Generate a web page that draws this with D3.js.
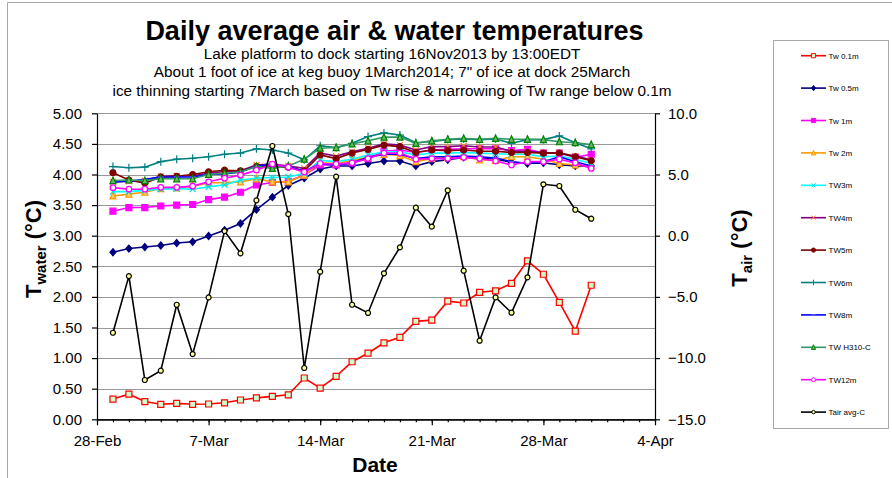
<!DOCTYPE html>
<html><head><meta charset="utf-8">
<script src="https://cdn.jsdelivr.net/npm/d3@7"></script>
<style>body{margin:0;background:#fff} svg{display:block;font-family:Arial,"Liberation Sans",sans-serif}</style>
</head><body>
<svg id="c" width="892" height="478"></svg>
<script>
// ---------- DATA ----------
const dates = ["2014-03-01","2014-03-02","2014-03-03","2014-03-04","2014-03-05","2014-03-06","2014-03-07","2014-03-08","2014-03-09","2014-03-10",
"2014-03-11","2014-03-12","2014-03-13","2014-03-14","2014-03-15","2014-03-16","2014-03-17","2014-03-18","2014-03-19","2014-03-20",
"2014-03-21","2014-03-22","2014-03-23","2014-03-24","2014-03-25","2014-03-26","2014-03-27","2014-03-28","2014-03-29","2014-03-30","2014-03-31"];
const xTickDates = ["2014-02-28","2014-03-07","2014-03-14","2014-03-21","2014-03-28","2014-04-04"];
const leftTicks = [0,0.5,1,1.5,2,2.5,3,3.5,4,4.5,5];
const rightTicks = [-15,-10,-5,0,5,10];

const tw01 = [0.33,0.41,0.29,0.245,0.26,0.245,0.25,0.27,0.315,0.35,0.375,0.40,0.675,0.51,0.70,0.94,1.08,1.25,1.34,1.60,1.62,1.93,1.90,2.075,2.10,2.22,2.59,2.37,1.91,1.44,2.19];
const tw05 = [2.73,2.79,2.815,2.84,2.88,2.90,2.995,3.09,3.20,3.425,3.63,3.82,3.94,4.09,4.14,4.14,4.18,4.22,4.22,4.14,4.21,4.24,4.28,4.27,4.25,4.20,4.18,4.19,4.16,4.14,4.14];
const tw1  = [3.40,3.46,3.46,3.485,3.50,3.51,3.59,3.63,3.71,3.83,3.87,3.89,3.99,4.155,4.155,4.19,4.26,4.38,4.40,4.36,4.40,4.41,4.42,4.42,4.42,4.39,4.41,4.35,4.35,4.28,4.33];
const tw2  = [3.65,3.68,3.71,3.77,3.78,3.81,3.86,3.87,3.88,3.93,3.88,3.88,3.99,4.19,4.18,4.23,4.28,4.33,4.31,4.21,4.26,4.28,4.29,4.24,4.23,4.29,4.29,4.25,4.18,4.155,4.14];
const tw3  = [3.72,3.72,3.74,3.76,3.77,3.76,3.80,3.83,3.91,3.94,3.95,3.96,4.02,4.23,4.21,4.25,4.32,4.37,4.37,4.32,4.35,4.35,4.36,4.35,4.34,4.33,4.33,4.29,4.30,4.25,4.18];
const tw4  = [3.88,3.89,3.90,3.97,3.98,3.98,4.02,4.05,4.06,4.155,4.17,4.14,4.10,4.35,4.30,4.37,4.43,4.50,4.48,4.40,4.455,4.455,4.47,4.45,4.45,4.38,4.38,4.36,4.35,4.30,4.24];
const tw5  = [4.03,3.91,3.86,3.96,3.97,4.00,4.045,4.07,4.06,4.13,4.12,4.12,4.06,4.32,4.26,4.35,4.41,4.48,4.455,4.36,4.40,4.39,4.40,4.38,4.38,4.36,4.36,4.35,4.35,4.29,4.225];
const tw6  = [4.13,4.11,4.12,4.21,4.25,4.265,4.29,4.33,4.35,4.42,4.40,4.35,4.24,4.47,4.44,4.51,4.62,4.68,4.645,4.52,4.54,4.57,4.58,4.57,4.58,4.51,4.57,4.57,4.63,4.52,4.42];
const tw8  = [3.88,3.89,3.92,3.96,3.96,3.96,4.00,4.01,4.04,4.14,4.16,4.13,4.05,4.18,4.15,4.19,4.28,4.33,4.33,4.26,4.29,4.29,4.30,4.29,4.27,4.21,4.18,4.21,4.29,4.21,4.14];
const twH  = [3.90,3.91,3.90,3.93,3.93,3.93,4.00,4.02,4.04,4.13,4.10,4.14,4.25,4.43,4.44,4.50,4.55,4.61,4.61,4.51,4.55,4.575,4.59,4.575,4.59,4.575,4.575,4.57,4.535,4.52,4.49];
const tw12 = [3.785,3.76,3.76,3.79,3.79,3.81,3.88,3.94,3.99,4.07,4.17,4.12,4.04,4.18,4.17,4.19,4.26,4.35,4.35,4.25,4.26,4.26,4.28,4.26,4.22,4.155,4.21,4.21,4.25,4.19,4.10];
const tair = [-7.93,-3.3,-11.79,-11.03,-5.64,-9.67,-5.04,0.38,-1.44,2.89,7.33,1.77,-10.81,-2.94,4.82,-5.64,-6.31,-3.07,-0.95,2.29,0.74,3.71,-2.86,-8.58,-5.04,-6.29,-3.40,4.20,4.06,2.12,1.39];

const seriesNames = ["Tw 0.1m","Tw 0.5m","Tw 1m","Tw 2m","TW3m","TW4m","TW5m","TW6m","TW8m","TW H310-C","TW12m","Tair avg-C"];
const seriesValues = [tw01,tw05,tw1,tw2,tw3,tw4,tw5,tw6,tw8,twH,tw12,tair];

// ---------- STYLES ----------
const styles = [
  {line:"#ff0000", mk:"square", mstroke:"#ff0000", mfill:"#ccffcc", ms:6},
  {line:"#000080", mk:"diamond", mstroke:"#000080", mfill:"#000080", ms:6},
  {line:"#ff00ff", mk:"square", mstroke:"#ff00ff", mfill:"#ff00ff", ms:6},
  {line:"#ff9900", mk:"triangle", mstroke:"#ff9900", mfill:"#ffcc66", ms:6},
  {line:"#00ffff", mk:"x", mstroke:"#00e0e0", mfill:"none", ms:6},
  {line:"#800080", mk:"x", mstroke:"#ff7f3f", mfill:"none", ms:6},
  {line:"#800000", mk:"circle", mstroke:"#800000", mfill:"#800000", ms:6},
  {line:"#008080", mk:"plus", mstroke:"#008080", mfill:"none", ms:8},
  {line:"#0000ff", mk:"dash", mstroke:"#6666ff", mfill:"none", ms:6},
  {line:"#339966", mk:"triangle", mstroke:"#008000", mfill:"#66bb66", ms:6},
  {line:"#ff00ff", mk:"circle", mstroke:"#ff00ff", mfill:"#ffffff", ms:5.5},
  {line:"#000000", mk:"circle", mstroke:"#000000", mfill:"#ffff99", ms:5}
];

const parse = d3.utcParse("%Y-%m-%d");
const svg = d3.select("#c");
const L = 97, R = 655, T = 113.3, B = 419.3;

const x = d3.scaleUtc().domain([parse("2014-02-28"), parse("2014-04-04")]).range([L, R]);
const yL = d3.scaleLinear().domain([0,5]).range([B, T]);
const yR = d3.scaleLinear().domain([-15,10]).range([B, T]);

// outer border
svg.append("path").attr("d","M7.5,478V2.5H892").attr("fill","none").attr("stroke","#a8a8a8").attr("stroke-width",1);

// title
svg.append("text").attr("x",394.5).attr("y",40).attr("text-anchor","middle")
  .attr("font-size",27).attr("font-weight","bold").text("Daily average air & water temperatures");
const subs = ["Lake platform to dock starting 16Nov2013 by 13:00EDT",
  "About 1 foot of ice at keg buoy 1March2014; 7\" of ice at dock 25March",
  "ice thinning starting 7March based on Tw rise & narrowing of Tw range below 0.1m"];
subs.forEach((s,i)=> svg.append("text").attr("x",392).attr("y",58.5+i*18.5).attr("text-anchor","middle")
  .attr("font-size",15.3).text(s));

// grid
svg.append("g").selectAll("line").data(leftTicks.filter(d=>d>0)).join("line")
  .attr("x1",L).attr("x2",R).attr("y1",d=>Math.round(yL(d))+0.5).attr("y2",d=>Math.round(yL(d))+0.5)
  .attr("stroke","#999").attr("stroke-width",1);

// axes
const gL = svg.append("g").attr("transform",`translate(${L},0)`)
  .call(d3.axisLeft(yL).tickValues(leftTicks).tickFormat(d3.format(".2f")).tickSize(5).tickSizeOuter(0).tickPadding(10));
const gR = svg.append("g").attr("transform",`translate(${R},0)`)
  .call(d3.axisRight(yR).tickValues(rightTicks).tickFormat(d3.format(".1f")).tickSize(5).tickSizeOuter(0).tickPadding(8));
const gXm = svg.append("g").attr("transform",`translate(0,${B})`)
  .call(d3.axisBottom(x).ticks(d3.utcDay.every(1)).tickFormat("").tickSize(3).tickSizeOuter(0));
const gX = svg.append("g").attr("transform",`translate(0,${B})`)
  .call(d3.axisBottom(x).tickValues(xTickDates.map(parse)).tickFormat(d3.utcFormat("%-d-%b")).tickSize(6).tickSizeOuter(0).tickPadding(10));
[gL,gR,gX,gXm].forEach(g=>{
  g.selectAll("text").attr("font-size",15).attr("fill","#000").attr("font-family","Arial, 'Liberation Sans', sans-serif");
  g.selectAll("line,path").attr("stroke","#000").attr("stroke-width",1.2);
});

// axis titles
svg.append("text").attr("x",375).attr("y",472).attr("text-anchor","middle")
  .attr("font-size",21).attr("font-weight","bold").text("Date");
const lt = svg.append("text").attr("transform","translate(41,249) rotate(-90)").attr("text-anchor","middle")
  .attr("font-size",22).attr("font-weight","bold");
lt.append("tspan").text("T");
lt.append("tspan").attr("font-size",15).attr("dy",5).text("water");
lt.append("tspan").attr("dy",-5).text(" (\u00B0C)");
const rt = svg.append("text").attr("transform","translate(747,248) rotate(-90)").attr("text-anchor","middle")
  .attr("font-size",22).attr("font-weight","bold");
rt.append("tspan").text("T");
rt.append("tspan").attr("font-size",15).attr("dy",5).text("air");
rt.append("tspan").attr("dy",-5).text(" (\u00B0C)");

// markers
function markerPath(type, s){
  const h = s/2;
  switch(type){
    case "square": return `M${-h},${-h}H${h}V${h}H${-h}Z`;
    case "diamond": return `M0,${-h-0.5}L${h},0L0,${h+0.5}L${-h},0Z`;
    case "triangle": return `M0,${-h-0.5}L${h},${h}L${-h},${h}Z`;
    case "x": return `M${-h},${-h}L${h},${h}M${-h},${h}L${h},${-h}`;
    case "plus": return `M${-h},0H${h}M0,${-h}V${h}`;
    case "dash": return `M${-h},0H${h}`;
    case "circle": return d3.symbol(d3.symbolCircle, Math.PI*h*h)();
  }
}

// series
const dX = dates.map(parse);
seriesValues.forEach((vals,i)=>{
  const st = styles[i];
  const yS = i===11 ? yR : yL;
  const line = d3.line().x((d,j)=>x(dX[j])).y(d=>yS(d));
  const g = svg.append("g");
  g.append("path").datum(vals).attr("d",line).attr("fill","none").attr("stroke",st.line).attr("stroke-width",1.6);
  g.selectAll("path.m").data(vals).join("path").attr("class","m")
    .attr("transform",(d,j)=>`translate(${x(dX[j])},${yS(d)})`)
    .attr("d",markerPath(st.mk, st.ms))
    .attr("fill",st.mfill).attr("stroke",st.mstroke).attr("stroke-width",1.2);
});

// legend
svg.append("rect").attr("x",773.5).attr("y",40.5).attr("width",115).attr("height",388)
  .attr("fill","#fff").attr("stroke","#a8a8a8").attr("stroke-width",1);
seriesNames.forEach((n,i)=>{
  const st = styles[i];
  const yy = 55.7 + i*32.4;
  const g = svg.append("g");
  g.append("line").attr("x1",801).attr("x2",826).attr("y1",yy).attr("y2",yy).attr("stroke",st.line).attr("stroke-width",1.6);
  g.append("path").attr("transform",`translate(813.5,${yy})`).attr("d",markerPath(st.mk, st.ms*0.7))
    .attr("fill",st.mfill).attr("stroke",st.mstroke).attr("stroke-width",1);
  g.append("text").attr("x",828.5).attr("y",yy+3).attr("font-size",8).text(n);
});
</script>
</body></html>
